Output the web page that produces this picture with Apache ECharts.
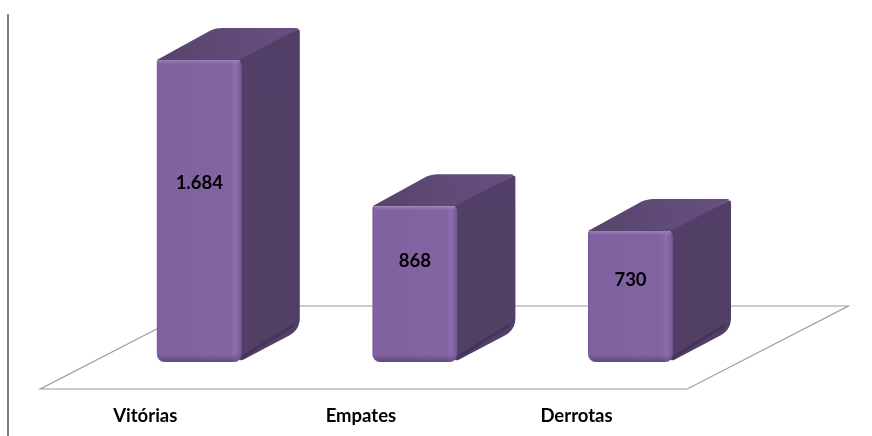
<!DOCTYPE html>
<html><head><meta charset="utf-8">
<style>html,body{margin:0;padding:0;background:#fff}#c{width:872px;height:436px}</style>
<script src="https://cdn.jsdelivr.net/npm/echarts@6/dist/echarts.min.js"></script>
</head><body><div id="c"></div>
<script>
const categories = ['Vitórias', 'Empates', 'Derrotas'];
const values = [1684, 868, 730];
const valueLabels = ['1.684', '868', '730'];

// layout / style
const GRID = {left: 91.5, right: 133.7, top: 60, bottom: 74};
const BAR_W = 85, DX = 58, DY = 32;
const LABEL_LIFT = [179, 101, 82];
const FONT = 'Lato, "Open Sans", sans-serif';

function rounded(pts, radii) {
  const out = [], n = pts.length;
  pts.forEach((p, i) => {
    const r = radii[i];
    if (!r) { out.push(p); return; }
    const a = pts[(i + n - 1) % n], b = pts[(i + 1) % n];
    const la = Math.hypot(a[0]-p[0], a[1]-p[1]), lb = Math.hypot(b[0]-p[0], b[1]-p[1]);
    const s = [p[0]+(a[0]-p[0])*r/la, p[1]+(a[1]-p[1])*r/la];
    const e = [p[0]+(b[0]-p[0])*r/lb, p[1]+(b[1]-p[1])*r/lb];
    for (let t = 0; t <= 1.001; t += 0.2) {
      const u = 1 - t;
      out.push([u*u*s[0]+2*u*t*p[0]+t*t*e[0], u*u*s[1]+2*u*t*p[1]+t*t*e[1]]);
    }
  });
  return out;
}
const grad = (x, y, x2, y2, stops) => ({type:'linear', x, y, x2, y2,
  colorStops: stops.map(s => ({offset:s[0], color:s[1]}))});

function renderBar(params, api) {
  const i = api.value(0), v = api.value(1);
  const c = api.coord([i, v]), b = api.coord([i, 0]);
  const x = c[0] - BAR_W/2, y = c[1], h = b[1] - c[1], r = x + BAR_W, bot = b[1];
  const top = rounded([[x,y],[x+DX,y-DY],[r+DX,y-DY],[r,y]], [0,7,4,0]);
  const side = rounded([[r-3,y],[r+DX,y-DY],[r+DX,bot-DY],[r-3,bot]], [0,4,12,5]);
  return {type:'group', children:[
    {type:'polygon', shape:{points:top}, style:{fill:grad(0,1,1,0,[[0,'#574369'],[0.55,'#604b78'],[1,'#674f81']])}},
    {type:'polygon', shape:{points:side}, style:{fill:grad(0,0,0,1,[[0,'#523f67'],[1,'#523f66']])}},
    {type:'polyline', shape:{points:[[r-1,bot-4],[r+DX-6,bot-DY-5]]},
      style:{fill:null, stroke:'rgba(50,35,70,0.4)', lineWidth:3}},
    {type:'rect', shape:{x, y, width:BAR_W, height:h, r:[2,5,8,8]},
      style:{fill:grad(0,0,1,0,[[0,'#7a5c9a'],[0.03,'#8162a1'],[0.87,'#8364a3'],[0.92,'#8d6eae'],[0.97,'#80619f'],[1,'#6f5290']])}},
    {type:'rect', shape:{x, y:bot-8, width:BAR_W, height:8, r:[0,0,8,8]},
      style:{fill:grad(0,0,0,1,[[0,'rgba(70,50,95,0)'],[1,'rgba(70,50,95,0.5)']])}},
    {type:'rect', shape:{x:x+2, y, width:BAR_W-4, height:4},
      style:{fill:grad(0,0,0,1,[[0,'rgba(170,145,195,0.6)'],[1,'rgba(170,145,195,0)']])}},
    {type:'text', style:{x:x+BAR_W/2, y:bot-LABEL_LIFT[i], text:valueLabels[i], fill:'#000',
      font:'bold 18.5px '+FONT, align:'center', verticalAlign:'middle'}}
  ]};
}

function renderFloor(params, api) {
  const o = api.coord([0, 0]);   // centre of first bar on baseline
  const ox = o[0], oy = o[1];
  const st = {stroke:'#9c9c9c', lineWidth:1.2, fill:null};
  const f = [[ox-159,oy+27],[ox+488,oy+27],[ox+649,oy-56],[ox+2,oy-56]];
  return {type:'group', silent:true, children:[
    {type:'polygon', shape:{points:f}, style:st},
    {type:'line', shape:{x1:8, y1:14, x2:8, y2:436}, style:{stroke:'#7f7f7f', lineWidth:2}}
  ]};
}

const chart = echarts.init(document.getElementById('c'), null, {renderer:'canvas'});
chart.setOption({
  animation:false,
  backgroundColor:'#fff',
  grid:GRID,
  xAxis:{type:'category', data:categories,
    axisLine:{show:false}, axisTick:{show:false},
    axisLabel:{margin:45, color:'#000', fontFamily:FONT, fontWeight:'bold', fontSize:18.5, padding:[0,108,0,0]}},
  yAxis:{type:'value', min:0, max:1684, show:false},
  series:[
    {type:'custom', coordinateSystem:'cartesian2d', z:1, renderItem:renderFloor, data:[[0,0]], encode:{x:0,y:1}, clip:false},
    {type:'custom', coordinateSystem:'cartesian2d', z:2, renderItem:renderBar, clip:false,
      data:values.map((v,i)=>[i,v]), encode:{x:0,y:1}}
  ]
});
</script></body></html>
